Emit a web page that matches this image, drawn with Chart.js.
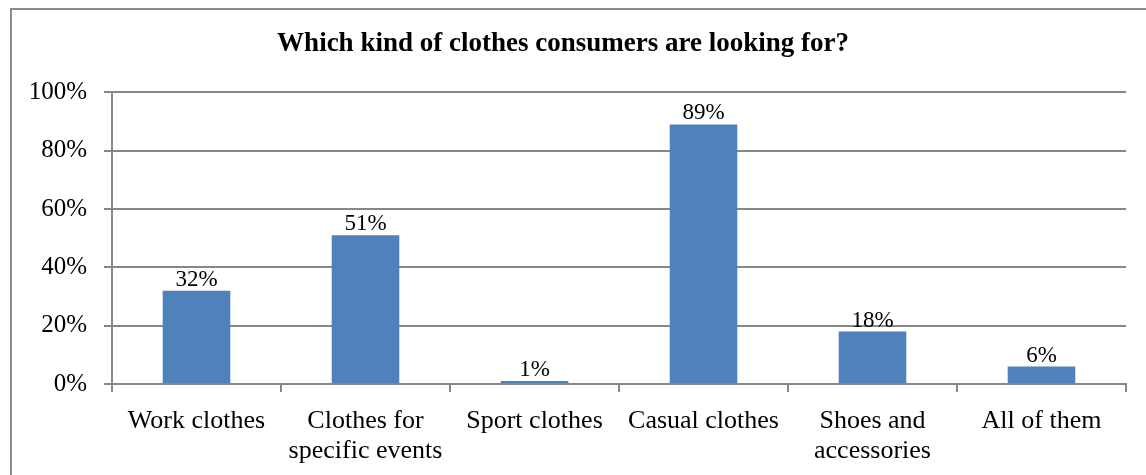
<!DOCTYPE html>
<html>
<head>
<meta charset="utf-8">
<script src="https://cdn.jsdelivr.net/npm/chart.js@4/dist/chart.umd.min.js"></script>
<style>
  html, body { margin: 0; padding: 0; background: #fff; }
  #wrap { width: 1146px; height: 475px; position: relative; }
</style>
</head>
<body>
<div id="wrap"><canvas id="chart"></canvas></div>
<script>
const categories = [
    'Work clothes', ['Clothes for', 'specific events'], 'Sport clothes',
    'Casual clothes', ['Shoes and', 'accessories'], 'All of them'
];
const percentages = [32, 51, 1, 89, 18, 6];
const yTicks = [0, 20, 40, 60, 80, 100];
const chartTitle = 'Which kind of clothes consumers are looking for?';

const serif = '"Liberation Serif", "Times New Roman", serif';
const gridGray = '#878787';

// outer frame of the chart
const framePlugin = {
    id: 'frame',
    beforeDraw(chart) {
        const c = chart.ctx;
        c.save();
        c.fillStyle = '#fff';
        c.fillRect(0, 0, chart.width, chart.height);
        c.strokeStyle = '#8c8c8c';
        c.lineWidth = 2;
        c.strokeRect(11, 9, 1200, 600);
        c.restore();
    }
};

// value labels above bars
const valueLabels = {
    id: 'valueLabels',
    afterDatasetsDraw(chart) {
        const c = chart.ctx;
        const meta = chart.getDatasetMeta(0);
        c.save();
        c.font = '23px ' + serif;
        c.fillStyle = '#000';
        c.textAlign = 'center';
        c.textBaseline = 'alphabetic';
        meta.data.forEach((bar, i) => {
            c.fillText(percentages[i] + '%', bar.x, bar.y - 5);
        });
        c.restore();
    }
};

new Chart(document.getElementById('chart'), {
    type: 'bar',
    data: {
        labels: categories,
        datasets: [{
            data: percentages,
            backgroundColor: '#4f81bd',
            borderWidth: 0,
            categoryPercentage: 0.4,
            barPercentage: 1
        }]
    },
    options: {
        responsive: true,
        maintainAspectRatio: false,
        animation: false,
        layout: { padding: { left: 0, right: 20, top: 0, bottom: 0 } },
        plugins: {
            legend: { display: false },
            tooltip: { enabled: false },
            title: {
                display: true,
                text: chartTitle,
                color: '#000',
                font: { family: serif, size: 27, weight: 'bold', lineHeight: 1.2 },
                padding: { top: 28, bottom: 32 }
            }
        },
        scales: {
            x: {
                grid: { drawOnChartArea: false, color: gridGray, tickLength: 8, lineWidth: 2 },
                border: { color: gridGray, width: 2 },
                ticks: {
                    color: '#000',
                    font: { family: serif, size: 26, lineHeight: 1.12 },
                    padding: 15,
                    maxRotation: 0
                },
                afterFit(scale) { scale.height = 91; }
            },
            y: {
                min: 0,
                max: 100,
                afterBuildTicks(scale) { scale.ticks = yTicks.map(v => ({ value: v })); },
                grid: { color: gridGray, tickLength: 8, lineWidth: 2 },
                border: { color: gridGray, width: 2 },
                ticks: {
                    color: '#000',
                    font: { family: serif, size: 25 },
                    padding: 17,
                    callback: v => v + '%'
                },
                afterFit(scale) { scale.width = 112; }
            }
        }
    },
    plugins: [framePlugin, valueLabels]
});
</script>
</body>
</html>
